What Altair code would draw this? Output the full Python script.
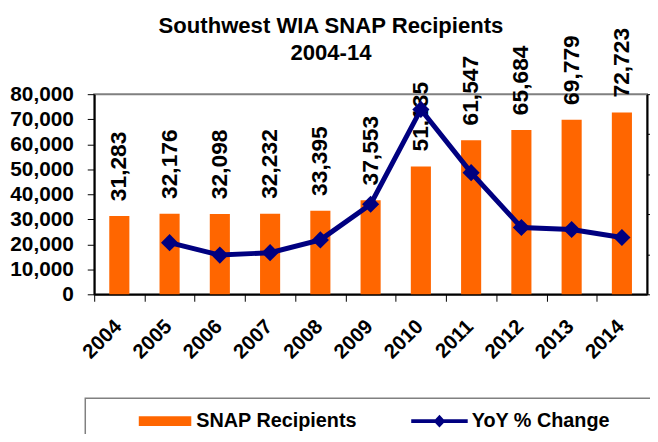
import altair as alt
import pandas as pd

years = ["2004", "2005", "2006", "2007", "2008", "2009", "2010", "2011", "2012", "2013", "2014"]
recipients = [31283, 32176, 32098, 32232, 33395, 37553, 51135, 61547, 65684, 69779, 72723]
yoy_pct = [None, 2.9, -0.2, 0.4, 3.6, 12.5, 36.2, 20.4, 6.7, 6.2, 4.2]
left_ticks = [0, 10000, 20000, 30000, 40000, 50000, 60000, 70000, 80000]
right_ticks = [-10, 0, 10, 20, 30, 40]

df = pd.DataFrame({
    "year": years,
    "recipients": recipients,
    "yoy": yoy_pct,
    "s1": ["SNAP Recipients"] * len(years),
    "s2": ["YoY % Change"] * len(years),
})

FONT = "Liberation Sans"
ORANGE = "#FF6600"
NAVY = "#000080"

x_enc = alt.X(
    "year:N", sort=years, title=None,
    scale=alt.Scale(paddingInner=0.6, paddingOuter=0.3),
    axis=alt.Axis(
        labelAngle=-45, labelAlign="right", labelBaseline="top",
        labelFont=FONT, labelFontSize=20.5, labelFontWeight="bold", labelColor="black",
        labelPadding=15, labelOffset=17, tickOffset=-25.36, tickSize=7,
        tickColor="black", domainColor="black", domainWidth=2, labelOverlap=False,
    ),
)

y_left = alt.Y(
    "recipients:Q", title=None,
    scale=alt.Scale(domain=[0, 80000]),
    axis=alt.Axis(
        values=left_ticks, format=",.0f", labelFont=FONT, labelFontSize=21,
        labelFontWeight="bold", labelColor="black", labelPadding=14, tickSize=7,
        tickColor="black", domainColor="black", domainWidth=2, grid=False,
        labelOverlap=False,
    ),
)

y_right = alt.Y(
    "yoy:Q", title=None,
    scale=alt.Scale(domain=[-10, 40]),
    axis=alt.Axis(
        orient="right", values=right_ticks, labels=False, tickSize=6,
        tickColor="black", domainColor="black", domainWidth=2, grid=False,
    ),
)

bars = alt.Chart(df).mark_bar().encode(
    x=x_enc, y=y_left,
    fill=alt.Fill(
        "s1:N", scale=alt.Scale(range=[ORANGE]),
        legend=alt.Legend(
            orient="none", legendX=45, legendY=303.5, title=None, padding=0,
            symbolType="M-1,-0.189H1V0.189H-1Z", symbolSize=2809, symbolStrokeWidth=0,
            labelFont=FONT, labelFontSize=20, labelFontWeight="bold", labelColor="black",
            labelOffset=5, labelLimit=400,
        ),
    ),
)

labels = alt.Chart(df).mark_text(
    angle=270, align="left", baseline="middle", dx=15,
    font=FONT, fontSize=23, fontWeight="bold", color="black",
).encode(x=x_enc, y=y_left, text=alt.Text("recipients:Q", format=","))

line = alt.Chart(df).transform_filter("isValid(datum.yoy)").mark_line(strokeWidth=5).encode(
    x=x_enc, y=y_right,
    stroke=alt.Stroke(
        "s2:N", scale=alt.Scale(range=[NAVY]),
        legend=alt.Legend(
            orient="none", legendX=320, legendY=301.5, title=None, padding=0,
            symbolType="M-1,-0.07H1V0.07H-1Z M0,-0.228L0.21,0L0,0.228L-0.21,0Z",
            symbolSize=3249, symbolStrokeWidth=0, symbolFillColor=NAVY,
            labelFont=FONT, labelFontSize=20, labelFontWeight="bold", labelColor="black",
            labelOffset=4, labelLimit=400,
        ),
    ),
)

points = alt.Chart(df).transform_filter("isValid(datum.yoy)").mark_point(
    shape="diamond", filled=True, size=300, color=NAVY, opacity=1,
).encode(x=x_enc, y=y_right)

frame = alt.Chart(pd.DataFrame({"k": [0]})).mark_rect(
    fill="transparent", stroke="#808080", strokeWidth=1.5,
).encode(x=alt.value(-9), x2=alt.value(600), y=alt.value(307), y2=alt.value(360))

chart = alt.layer(
    alt.layer(bars, labels),
    alt.layer(line, points),
    frame,
).resolve_scale(y="independent").properties(
    width=558, height=202,
    padding={"left": 87, "top": 85, "right": 3, "bottom": 139},
    autosize=alt.AutoSizeParams(type="none"),
    title=alt.TitleParams(
        text=["Southwest WIA SNAP Recipients", "2004-14"],
        font=FONT, fontSize=22.3, fontWeight="bold", color="black",
        anchor="middle", frame="group", dx=-40, dy=59.5, offset=0,
        baseline="bottom", lineHeight=26.5,
    ),
).configure_view(stroke="#808080", strokeWidth=2)

chart.save("out.html", embed_options={"renderer": "svg", "actions": False})
